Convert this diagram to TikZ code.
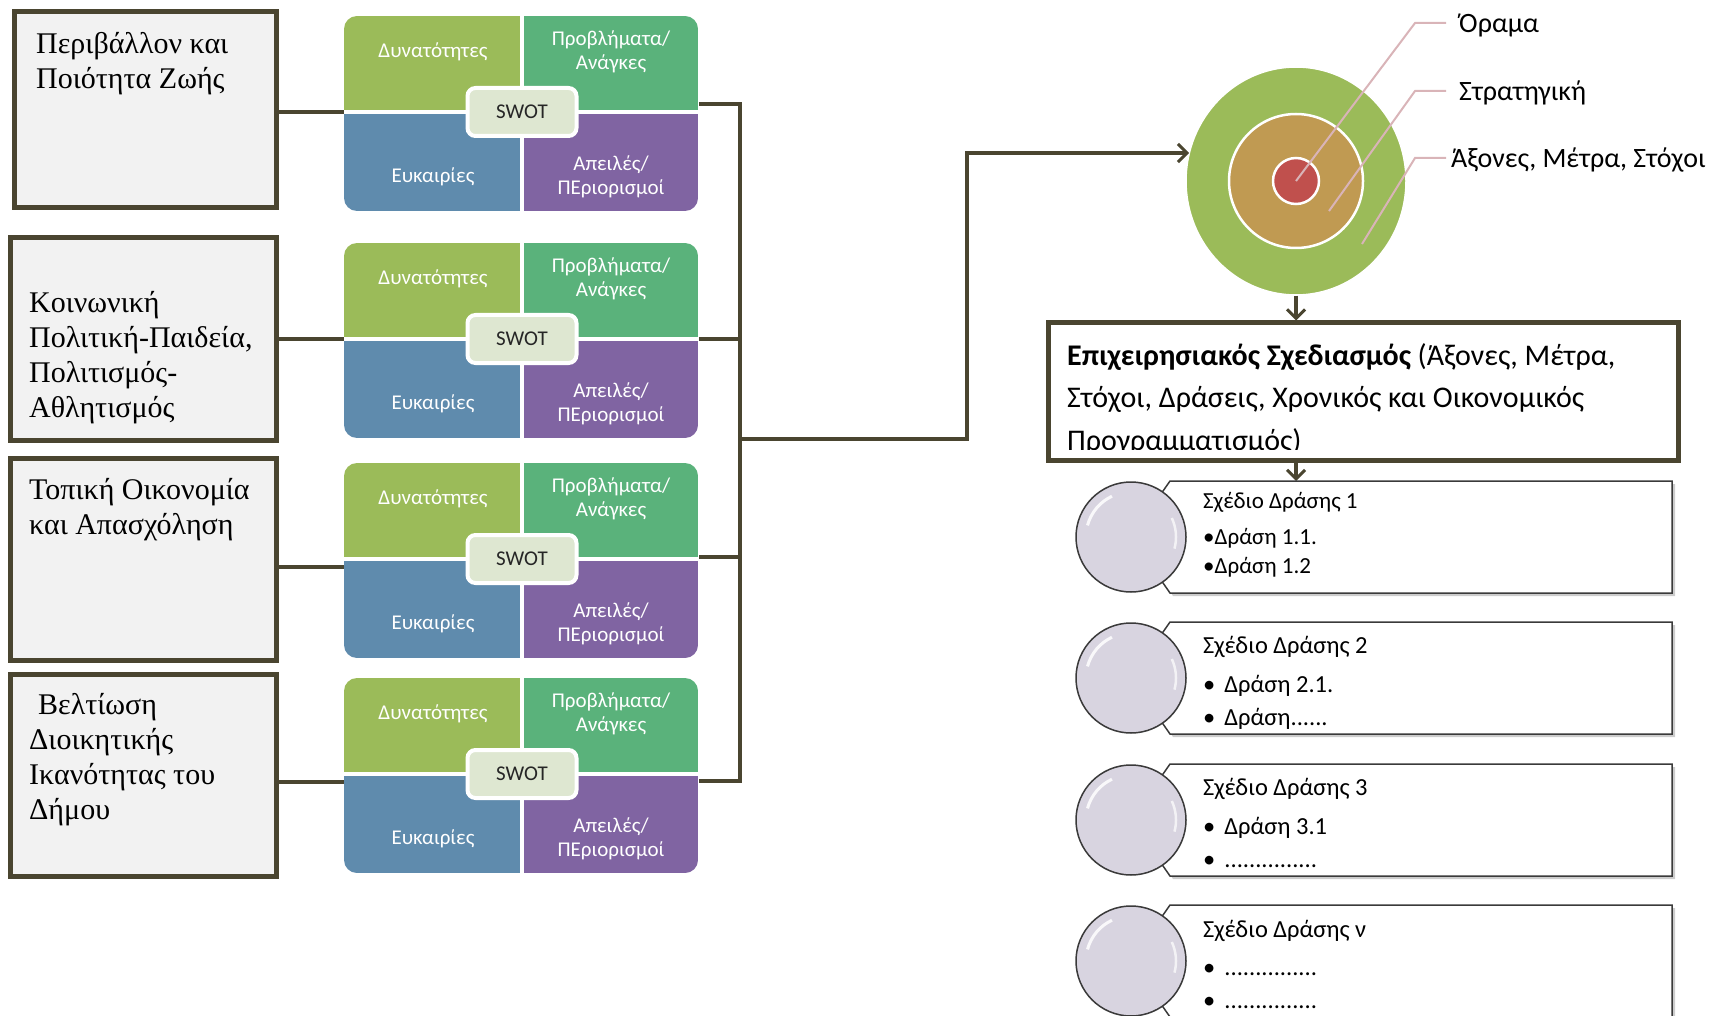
\documentclass[tikz,border=0pt]{standalone}
\usepackage{fontspec}
\setmainfont{Liberation Serif}
\newfontfamily\calfont{Carlito}
\usetikzlibrary{arrows.meta,shapes.geometric}
\definecolor{lineol}{HTML}{4A4530}
\definecolor{boxgray}{HTML}{F2F2F2}
\definecolor{qS}{HTML}{9BBB59}
\definecolor{qW}{HTML}{5AB27B}
\definecolor{qO}{HTML}{5F8BAD}
\definecolor{qT}{HTML}{8064A2}
\definecolor{swotfill}{HTML}{DEE7D1}
\definecolor{ringG}{HTML}{9BBB59}
\definecolor{ringT}{HTML}{C09A52}
\definecolor{ringR}{HTML}{C0504D}
\definecolor{leadc}{HTML}{D9B4B8}
\definecolor{lav}{HTML}{D8D4E0}
\definecolor{aline}{HTML}{3A3A3A}

\newcommand\swotblock[2]{%
  \begin{scope}
    \clip[rounded corners=13] (344,#2) rectangle (698,#2+195);
    \fill[qS] (344,#2) rectangle (520,#2+94);
    \fill[qW] (524,#2) rectangle (698,#2+94);
    \fill[qO] (344,#2+98) rectangle (520,#2+195);
    \fill[qT] (524,#2+98) rectangle (698,#2+195);
  \end{scope}
  \node[qtext] (#1s) at (433,#2+36) {Δυνατότητες};
  \node[qtext] (#1w) at (611,#2+36) {Προβλήματα/\\Ανάγκες};
  \node[qtext] (#1o) at (433,#2+161) {Ευκαιρίες};
  \node[qtext] (#1t) at (611,#2+161) {Απειλές/\\ΠΕριορισμοί};
  \node[swotc] (#1c) at (522,#2+96) {SWOT};
}

\newcommand\actitem[2]{%
  \fill[black!20] (1173,#2-53) -- (1675,#2-53) -- (1675,#2+59) -- (1173,#2+59) -- (1134,#2+3) -- cycle;
  \draw[abox] (1170,#2-56) -- (1672,#2-56) -- (1672,#2+56) -- (1170,#2+56) -- (1131,#2) -- cycle;
  \node[acirc] (#1) at (1131,#2) {};
  \draw[white,line width=3,opacity=.85] ([shift={(195:45)}]#1.center) arc[start angle=195,end angle=245,radius=45];
  \draw[white,line width=2.5,opacity=.7] ([shift={(-25:45)}]#1.center) arc[start angle=-25,end angle=15,radius=45];
}

\begin{document}
\begin{tikzpicture}[x=1pt,y=-1pt,
  conn/.style={draw=lineol,line width=3.5},
  arr/.style={draw=lineol,line width=3.5,-{Straight Barb[length=9pt,width=18pt,line width=3pt]}},
  lbox/.style={draw=lineol,line width=5,fill=boxgray,inner sep=0},
  ltext/.style={anchor=north west,align=left,inner sep=0,font=\fontsize{30}{35}\selectfont},
  qtext/.style={text=white,align=center,inner sep=0,font=\calfont\fontsize{21}{24}\selectfont},
  swotc/.style={draw=white,line width=4,fill=swotfill,rounded corners=8,minimum width=109,minimum height=48,inner sep=0,text=black!85,font=\calfont\fontsize{21}{24}\selectfont},
  lead/.style={draw=leadc,line width=2},
  rtext/.style={anchor=west,inner sep=0,font=\calfont\fontsize{28}{32}\selectfont},
  optext/.style={anchor=north west,align=left,inner sep=0,font=\calfont\fontsize{30}{42.5}\selectfont},
  abox/.style={draw=aline,line width=1.5,fill=white},
  acirc/.style={circle,minimum size=110,inner sep=0,fill=lav,draw=aline,line width=1.5},
  atext/.style={anchor=west,inner sep=0,font=\calfont\fontsize{23}{26}\selectfont},
  btext/.style={anchor=west,inner sep=0,font=\calfont\fontsize{24.5}{28}\selectfont},
]
\useasboundingbox (0,0) rectangle (1711,1016);
\clip (0,0) rectangle (1711,1016);

% left boxes
\node[lbox,minimum width=262,minimum height=196] (b1) at (145,110) {};
\node[lbox,minimum width=266,minimum height=202] (b2) at (143,339) {};
\node[lbox,minimum width=266,minimum height=202] (b3) at (143,559) {};
\node[lbox,minimum width=266,minimum height=202] (b4) at (143,775) {};
\node[ltext] (b1t) at (36,32) {Περιβάλλον και\\Ποιότητα Ζωής};
\node[ltext] (b2t) at (29,291) {Κοινωνική\\Πολιτική-Παιδεία,\\Πολιτισμός-\\Αθλητισμός};
\node[ltext] (b3t) at (29,478) {Τοπική Οικονομία\\και Απασχόληση};
\node[ltext] (b4t) at (29,693) {\hspace*{9pt}Βελτίωση\\Διοικητικής\\Ικανότητας του\\Δήμου};

% SWOT blocks
\swotblock{w1}{16}
\swotblock{w2}{243}
\swotblock{w3}{463}
\swotblock{w4}{678}

% left connectors
\coordinate (s1in) at (344,112);
\coordinate (s2in) at (344,339);
\coordinate (s3in) at (344,567);
\coordinate (s4in) at (344,782);
\draw[conn] (b1.east |- s1in) -- (s1in);
\draw[conn] (b2.east |- s2in) -- (s2in);
\draw[conn] (b3.east |- s3in) -- (s3in);
\draw[conn] (b4.east |- s4in) -- (s4in);

% right connectors and bus
\coordinate (s1out) at (699,104);
\coordinate (s2out) at (699,339);
\coordinate (s3out) at (699,557);
\coordinate (s4out) at (699,781);
\coordinate (bus) at (740,439);
\coordinate (k1) at (967,439);
\coordinate (k2) at (967,153);
\coordinate (ringin) at (1189,153);
\draw[conn] (s1out) -- (s1out -| bus) -- (s4out -| bus) -- (s4out);
\draw[conn] (s2out) -- (s2out -| bus);
\draw[conn] (s3out) -- (s3out -| bus);

% rings
\node[ellipse,minimum width=220,minimum height=228,fill=ringG,draw=white,line width=1.5,inner sep=0] (ring) at (1296,181) {};
\node[circle,minimum size=134,fill=ringT,draw=white,line width=2.5,inner sep=0] (strat) at (1296,181) {};
\node[circle,minimum size=46,fill=ringR,draw=white,line width=2.5,inner sep=0] (vis) at (1296,181) {};

\draw[arr] (bus) -- (k1) -- (k2) -- (ringin);

% leaders
\coordinate (l1a) at (1415,23);  \coordinate (l1b) at (1446,23);
\coordinate (l2s) at (1329,211); \coordinate (l2a) at (1415,91);  \coordinate (l2b) at (1446,91);
\coordinate (l3s) at (1362,244); \coordinate (l3a) at (1415,158); \coordinate (l3b) at (1446,158);
\draw[lead] (vis.center) -- (l1a) -- (l1b);
\draw[lead] (l2s) -- (l2a) -- (l2b);
\draw[lead] (l3s) -- (l3a) -- (l3b);
\node[rtext] (lab1) at (1459,25) {Όραμα};
\node[rtext] (lab2) at (1459,93) {Στρατηγική};
\node[rtext] (lab3) at (1451,160) {Άξονες, Μέτρα, Στόχοι};

% operational planning box
\node[draw=lineol,line width=5,fill=white,minimum width=630,minimum height=137,inner sep=0] (op) at (1363,391.5) {};
\begin{scope}
  \clip (1051,326) rectangle (1675,449);
  \node[optext] (opt) at (1067,343) {\textbf{Επιχειρησιακός Σχεδιασμός} (Άξονες, Μέτρα,\\Στόχοι, Δράσεις, Χρονικός και Οικονομικός\\Προγραμματισμός)};
\end{scope}
\coordinate (a1top) at (1296,481);
\draw[arr] (ring.south) -- (ring.south |- op.north);
\draw[arr] (ring.south |- op.south) -- (a1top);

% action plans
\actitem{a1}{537}
\actitem{a2}{678}
\actitem{a3}{820}
\actitem{a4}{961}
\node[atext] (a1t) at (1203,502) {Σχέδιο Δράσης 1};
\node[atext] (a1x) at (1203,538) {•Δράση 1.1.};
\node[atext] (a1y) at (1203,567) {•Δράση 1.2};
\node[btext] (a2t) at (1203,647) {Σχέδιο Δράσης 2};
\node[btext] (a2x) at (1203,686) {•\hspace{9pt}Δράση 2.1.};
\node[btext] (a2y) at (1203,719) {•\hspace{9pt}Δράση......};
\node[btext] (a3t) at (1203,789) {Σχέδιο Δράσης 3};
\node[btext] (a3x) at (1203,828) {•\hspace{9pt}Δράση 3.1};
\node[btext] (a3y) at (1203,862) {•\hspace{9pt}...............};
\node[btext] (a4t) at (1203,931) {Σχέδιο Δράσης ν};
\node[btext] (a4x) at (1203,970) {•\hspace{9pt}...............};
\node[btext] (a4y) at (1203,1003) {•\hspace{9pt}...............};
\end{tikzpicture}
\end{document}
